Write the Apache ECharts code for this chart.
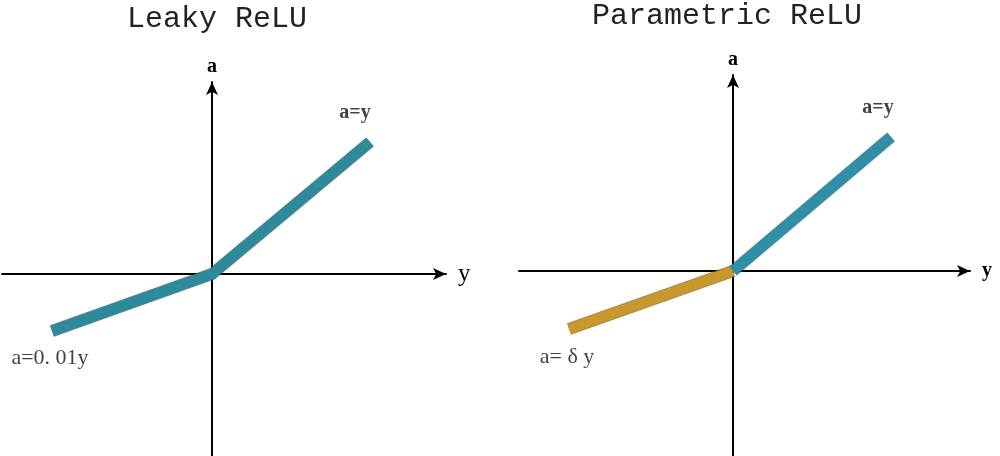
<!DOCTYPE html>
<html>
<head>
<meta charset="utf-8">
<script src="https://cdn.jsdelivr.net/npm/echarts@6/dist/echarts.min.js"></script>
<style>html,body{margin:0;padding:0;background:#fff}#c{width:1000px;height:456px}</style>
</head>
<body>
<div id="c"></div>
<script>
// Panel titles and labels
const titles = ['Leaky ReLU', 'Parametric ReLU'];
const axisNames = { x: 'y', y: 'a' };
// Left panel (Leaky ReLU): breakpoints of the polyline (y, a)
const leakyY = [-160, 0, 158];
const leakyA = [-57, 0, 132];
const leakyLabels = ['a=0. 01y', null, 'a=y'];
// Right panel (Parametric ReLU): negative part and positive part
const pNegY = [-164, 0];
const pNegA = [-58, 0];
const pPosY = [0, 158];
const pPosA = [0, 134];
const paramLabels = ['a= δ y', 'a=y'];
// Axis ranges
const leftXRange = [-210, 234], leftARange = [-182, 192];
const rightXRange = [-214, 237], rightARange = [-185, 196];

const TEAL = '#2d8a9a', TEAL_DARK = '#1d5d68';
const GOLD = '#c8982c', GOLD_DARK = '#8a6616';

function pts(xs, ys) { return xs.map((x, i) => [x, ys[i]]); }

function axisX(idx, range, nameSize, bold) {
  return {
    type: 'value', gridIndex: idx, min: range[0], max: range[1],
    axisLine: { onZero: true, symbol: ['none', 'arrow'], symbolSize: [9, 13], lineStyle: { color: '#000', width: 2 } },
    axisTick: { show: false }, axisLabel: { show: false }, splitLine: { show: false },
    name: axisNames.x, nameLocation: 'end', nameGap: 12,
    nameTextStyle: { fontFamily: 'Liberation Serif', fontSize: nameSize, fontWeight: bold ? 'bold' : 'normal', color: '#000', verticalAlign: 'middle', padding: [6, 0, 0, 0] }
  };
}
function axisY(idx, range) {
  return {
    type: 'value', gridIndex: idx, min: range[0], max: range[1],
    axisLine: { onZero: true, symbol: ['none', 'arrow'], symbolSize: [9, 13], lineStyle: { color: '#000', width: 2 } },
    axisTick: { show: false }, axisLabel: { show: false }, splitLine: { show: false },
    name: axisNames.y, nameLocation: 'end', nameGap: 5,
    nameTextStyle: { fontFamily: 'Liberation Serif', fontWeight: 'bold', fontSize: 20, color: '#000' }
  };
}
function seg(idx, data, color, dark) {
  return [
    { type: 'line', xAxisIndex: idx, yAxisIndex: idx, data: data, showSymbol: false, silent: true,
      lineStyle: { color: dark, width: 12, cap: 'butt', join: 'miter', opacity: 0.75 }, z: 3 },
    { type: 'line', xAxisIndex: idx, yAxisIndex: idx, data: data, showSymbol: false, silent: true,
      lineStyle: { color: color, width: 10, cap: 'butt', join: 'miter' }, z: 4 }
  ];
}
function labelSeries(idx, items) {
  return {
    type: 'scatter', xAxisIndex: idx, yAxisIndex: idx, symbolSize: 1, silent: true,
    itemStyle: { color: 'rgba(0,0,0,0)' },
    data: items.map(it => ({
      value: it.p,
      label: { show: true, formatter: it.t, position: 'inside', offset: it.o,
        fontFamily: 'Liberation Serif', fontSize: it.s, fontWeight: it.b ? 'bold' : 'normal',
        color: '#111', textBorderWidth: 0 }
    })), z: 5
  };
}

const leftPts = pts(leakyY, leakyA);
const option = {
  animation: false,
  backgroundColor: '#fff',
  title: [
    { text: titles[0], left: 212, top: -1, textAlign: 'center',
      textStyle: { fontFamily: 'Liberation Mono', fontSize: 30, fontWeight: 'normal', color: '#222' } },
    { text: titles[1], left: 722, top: -4, textAlign: 'center',
      textStyle: { fontFamily: 'Liberation Mono', fontSize: 30, fontWeight: 'normal', color: '#222' } }
  ],
  grid: [
    { left: 2, width: 444, top: 82, height: 374 },
    { left: 519, width: 451, top: 75, height: 381 }
  ],
  xAxis: [axisX(0, leftXRange, 25, false), axisX(1, rightXRange, 20, true)],
  yAxis: [axisY(0, leftARange), axisY(1, rightARange)],
  series: [
    ...seg(0, leftPts, TEAL, TEAL_DARK),
    ...seg(1, pts(pNegY, pNegA), GOLD, GOLD_DARK),
    ...seg(1, pts(pPosY, pPosA), '#2e8fa6', '#1c6275'),
    labelSeries(0, [
      { p: leftPts[0], t: leakyLabels[0], o: [-2, 27], s: 22 },
      { p: leftPts[2], t: leakyLabels[2], o: [-15, -29], s: 20, b: true }
    ]),
    labelSeries(1, [
      { p: [pNegY[0], pNegA[0]], t: paramLabels[0], o: [-2, 28], s: 22 },
      { p: [pPosY[1], pPosA[1]], t: paramLabels[1], o: [-13, -29], s: 20, b: true }
    ])
  ]
};
const chart = echarts.init(document.getElementById('c'), null, { renderer: 'canvas' });
chart.setOption(option);
</script>
</body>
</html>
